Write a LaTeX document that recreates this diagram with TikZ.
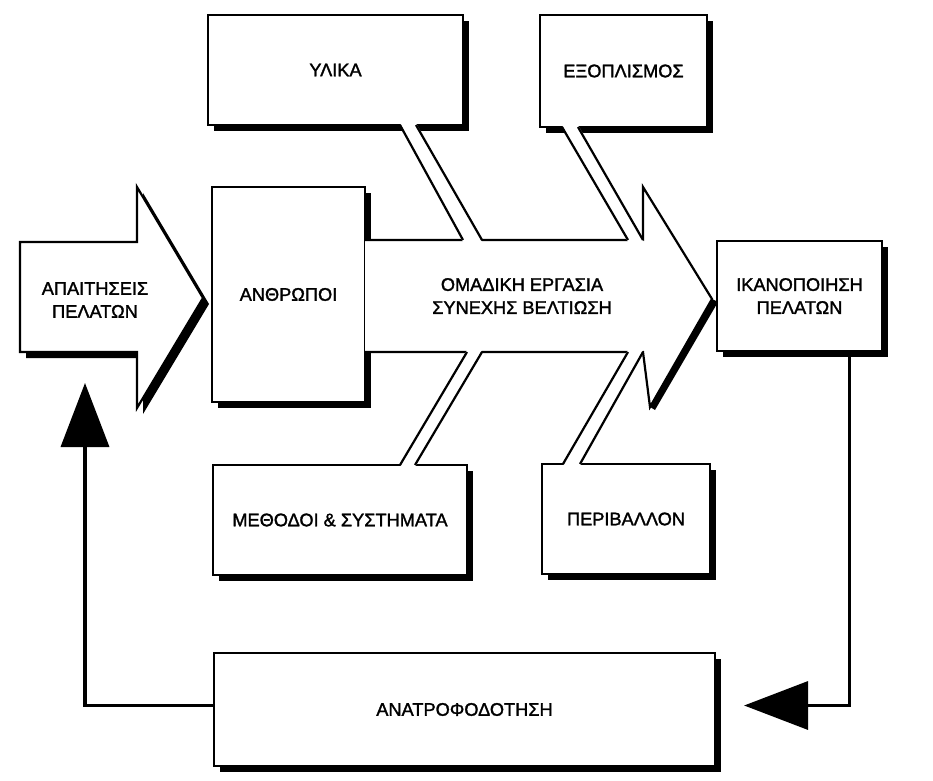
\documentclass[tikz,border=0pt]{standalone}
\usepackage{fontspec}
\setmainfont[FakeBold=1.6]{Liberation Sans}
\usetikzlibrary{arrows.meta,shadows}

\newcommand{\boxfont}{\fontsize{9.1}{11.5}\selectfont}

\tikzset{
	boxshadow/.style={drop shadow={shadow xshift=3pt,shadow yshift=-3pt,opacity=1,fill=black}},
	outline/.style={draw,line width=1.1pt,fill=white},
	box/.style={outline,boxshadow,align=center,font=\boxfont},
	txt/.style={align=center,font=\boxfont},
	stripfill/.style={fill=white},
	stripline/.style={line width=1.1pt},
	fb/.style={line width=1.8pt,-{Triangle[length=32pt,width=24pt]}}
}

\begin{document}
\begin{tikzpicture}[x=0.5pt,y=-0.5pt]
	\useasboundingbox (0,0) rectangle (933,781);
	
	% input arrow
	\draw[outline,boxshadow] (20,242) -- (137,242) -- (137,187) -- (203,298) -- (137,408) -- (137,352) -- (20,352) -- cycle;
	\node[txt] (apait) at (95,300) {ΑΠΑΙΤΗΣΕΙΣ\\ΠΕΛΑΤΩΝ};
	
	% people box, then the big arrow over its shadow
	\node[box,minimum width=76.5pt,minimum height=107.5pt] (anthr) at (288.5,294.5) {\raisebox{-2pt}{ΑΝΘΡΩΠΟΙ}};
	\fill (712,299) -- (718,302) -- (655,410) -- (650,407) -- cycle;
	\draw[outline] (365,240) -- (643,240) -- (643,187) -- (712,299) -- (650,407) -- (643,352) -- (365,352);
	\node[txt] (team) at (522,296) {ΟΜΑΔΙΚΗ ΕΡΓΑΣΙΑ\\ΣΥΝΕΧΗΣ ΒΕΛΤΙΩΣΗ};
	
	% boxes
	\node[box,minimum width=127.5pt,minimum height=55pt] (ylika) at (335.5,70) {ΥΛΙΚΑ};
	\node[box,minimum width=83.5pt,minimum height=56pt] (exopl) at (623.5,71) {ΕΞΟΠΛΙΣΜΟΣ};
	\node[box,minimum width=127pt,minimum height=55pt] (method) at (340,520) {\raisebox{-2pt}{ΜΕΘΟΔΟΙ \& ΣΥΣΤΗΜΑΤΑ}};
	\node[box,minimum width=84pt,minimum height=55pt] (perib) at (626,519) {\raisebox{-2pt}{ΠΕΡΙΒΑΛΛΟΝ}};
	\node[box,minimum width=82.5pt,minimum height=55pt] (ikan) at (799.5,296) {ΙΚΑΝΟΠΟΙΗΣΗ\\ΠΕΛΑΤΩΝ};
	\node[box,minimum width=250.5pt,minimum height=56.5pt] (feed) at (464.5,709.5) {ΑΝΑΤΡΟΦΟΔΟΤΗΣΗ};
	
	% strips joining the boxes to the arrow
	\fill[stripfill] (400,123) -- (416,123) -- (482,242) -- (463,242) -- cycle;
	\draw[stripline] (400,125) -- (463,240) (416,125) -- (482,240);
	\fill[stripfill] (562,125) -- (578,125) -- (644,242) -- (628,242) -- cycle;
	\draw[stripline] (562,127) -- (628,240) (578,127) -- (643,240);
	\fill[stripfill] (467,350) -- (482,350) -- (415,467) -- (400,467) -- cycle;
	\draw[stripline] (467,352) -- (400,465) (482,352) -- (415,465);
	\fill[stripfill] (628,350) -- (643,350) -- (580,466) -- (563,466) -- cycle;
	\draw[stripline] (628,352) -- (563,464) (643,352) -- (580,464);
	
	% feedback loop
	\coordinate (fbtip) at (85,383);
	\draw[fb,shorten >=14pt] ([xshift=25pt]ikan.south) |- ([yshift=2pt]feed.east);
	\draw[fb] ([yshift=2pt]feed.west) -| (fbtip);
\end{tikzpicture}
\end{document}
